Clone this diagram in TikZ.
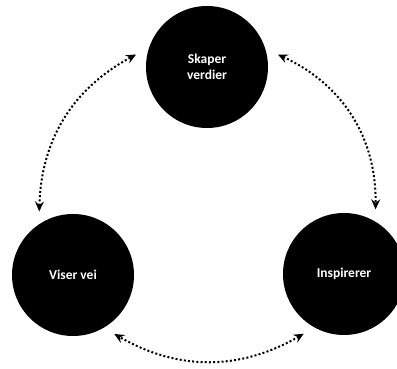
\documentclass[tikz,border=0pt]{standalone}
\usepackage{fontspec}
\setmainfont{Carlito}
\usetikzlibrary{arrows.meta}
\begin{document}
\begin{tikzpicture}[x=1pt,y=1pt,
        circ/.style={circle,draw=none,fill=black,text=white,
          inner sep=0pt,outer sep=11pt,minimum size=122pt,align=center,
          font=\fontsize{13.5}{16}\selectfont\bfseries},
        link/.style={line width=2pt,dash pattern=on 2pt off 2.2pt,
          {Stealth[length=10pt,width=9pt,inset=3.5pt]}-{Stealth[length=10pt,width=9pt,inset=3.5pt]}}]
      \useasboundingbox (0,0) rectangle (397,-369);
      \node (1) at (207,-67) [circ] {Skaper\\verdier};
      \node (2) at (73,-275) [circ] {Viser vei};
      \node (3) at (344,-274) [circ] {Inspirerer};
      \draw (2.118) edge[link,bend left=30] (1.170);
      \draw (1.10) edge[link,bend left=33] (3.64);
      \draw (3.236) edge[link,bend left=30] (2.305);
\end{tikzpicture}
\end{document}
